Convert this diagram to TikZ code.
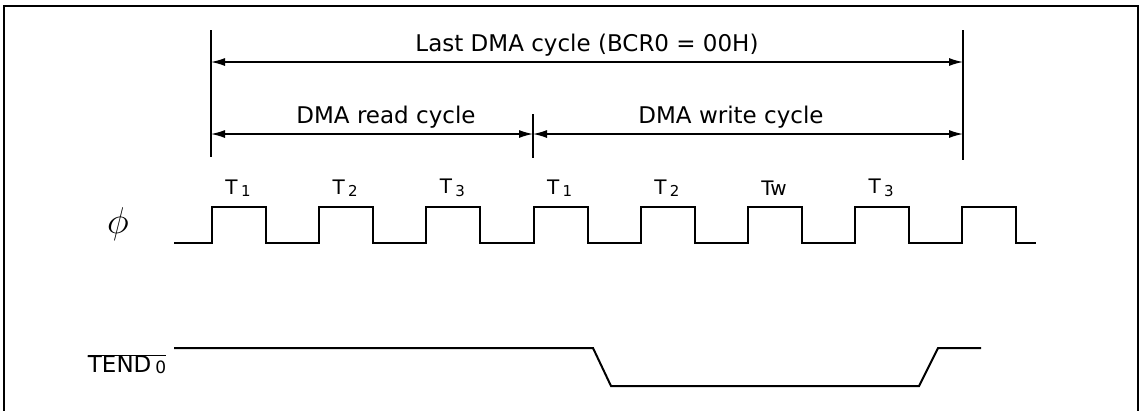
\documentclass[tikz,border=0pt]{standalone}
\usepackage{fontspec}
\setmainfont{DejaVu Sans}
\usetikzlibrary{arrows.meta}

% smaller digit after a signal or state name
\newcommand{\tsub}[3][15]{\,\raisebox{#3}{\fontsize{#1}{#1}\selectfont #2}}

\begin{document}
\begin{tikzpicture}[
    x=1pt, y=-1pt,
    every node/.style={font=\fontsize{23}{26}\selectfont, inner sep=0pt},
    signal/.style={line width=2pt, line join=miter},
    marker/.style={line width=1.5pt},
    span/.style={line width=1.3pt, {Latex[length=14pt,width=8pt]}-{Latex[length=14pt,width=8pt]}},
    statelabel/.style={font=\fontsize{20}{24}\selectfont}
]
\useasboundingbox (0,0) rectangle (1140,410);

% Frame (open at the bottom)
\draw[line width=1.6pt] (4,412) -- (4,6) -- (1138,6) -- (1138,412);

% Cycle boundary markers
\coordinate (left-top) at (211,30);
\coordinate (left-bot) at (211,157);
\coordinate (mid-top) at (533,114);
\coordinate (mid-bot) at (533,158);
\coordinate (right-top) at (963,30);
\coordinate (right-bot) at (963,160);
\draw[marker] (left-top) -- (left-bot);
\draw[marker] (mid-top) -- (mid-bot);
\draw[marker] (right-top) -- (right-bot);

% Cycle spans
\coordinate (last-l) at (211,62);
\coordinate (last-r) at (963,62);
\coordinate (read-l) at (211,134);
\coordinate (read-r) at (533,134);
\coordinate (write-r) at (963,134);
\draw[span] (last-l) -- (last-r);
\draw[span] (read-l) -- (read-r);
\draw[span] (read-r) -- (write-r);

\node (lastcycle) at (587,45) {Last DMA cycle (BCR0 {=} 00H)};
\node (readcycle) at (386,117) {DMA read cycle};
\node (writecycle) at (731,117) {DMA write cycle};

% Clock phi
\node[scale=1.5] (phi) at (118,224) {$\phi$};
\draw[signal] (174,243)
  \foreach \k in {0,...,7} {
    -- ({212+107.2*\k},243) -- ({212+107.2*\k},207)
    -- ({266+107.2*\k},207) -- ({266+107.2*\k},243)
  } -- (1036,243);

% State names above the clock pulses
\foreach \lab [count=\k from 0] in {{T\tsub{1}{-0.12em}},{T\tsub{2}{-0.12em}},{T\tsub{3}{-0.12em}},{T\tsub{1}{-0.12em}},{T\tsub{2}{-0.12em}},{Tw},{T\tsub{3}{-0.12em}}}
  \node[statelabel] (state\k) at ({238+107.2*\k},188) {\lab};

% TEND0
\node (tend) at (127,364) {$\overline{\mbox{TEND\tsub[17]{0}{-0.03em}}}$};
\draw[signal] (174,348) -- (593,348) -- (611,386) -- (919,386) -- (938,348) -- (981,348);

\end{tikzpicture}
\end{document}
